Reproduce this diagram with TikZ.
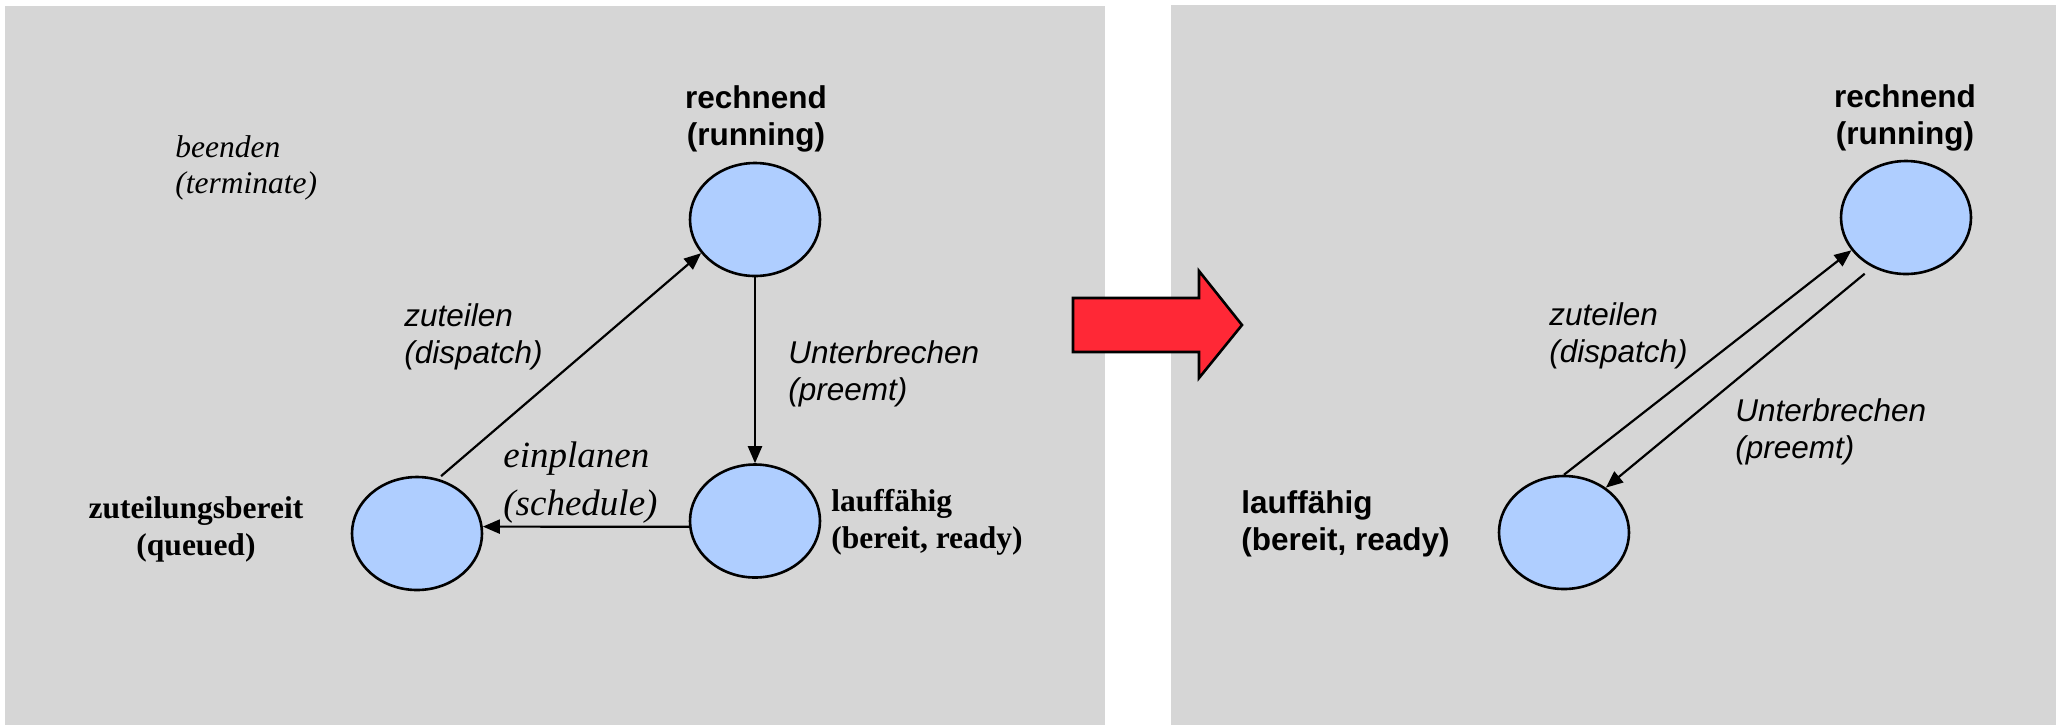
\documentclass[tikz,border=0pt]{standalone}
\usepackage{fontspec}
\setmainfont{Liberation Serif}
\setsansfont{Liberation Sans}
\usetikzlibrary{shapes.geometric}
\usetikzlibrary{arrows.meta}
\definecolor{panelgray}{RGB}{214,214,214}
\definecolor{stateblue}{RGB}{175,206,255}
\definecolor{bigred}{RGB}{255,40,54}
\tikzset{
>={Triangle[length=8.5pt,width=7pt]}, % filled triangle tips
my state/.style={draw,ellipse,fill=stateblue,line width=1.3pt,inner sep=0pt,
  minimum width=65pt,minimum height=56.5pt},
my edge/.style={line width=1.1pt},
my text/.style={inner sep=0pt,font=\fontsize{15.75}{18.5}\selectfont},
sans bold/.style={my text,font=\fontsize{15.75}{18.5}\selectfont\sffamily\bfseries},
sans it/.style={my text,font=\fontsize{15.75}{18.5}\selectfont\sffamily\itshape},
serif bold/.style={my text,font=\fontsize{15.75}{18.5}\selectfont\rmfamily\bfseries},
serif it/.style={my text,font=\fontsize{15.75}{18}\selectfont\rmfamily\itshape},
panel/.style={fill=panelgray,draw=none},
diagram/.style={x=0.5pt,y=-0.5pt}
}

\begin{document}
\begin{tikzpicture}[diagram]
\useasboundingbox (0,0) rectangle (2056,725);
\fill[panel] (5,6) rectangle (1105,725);
\fill[panel] (1171,5) rectangle (2056,725);

% left: three states
\node[my state] (rL) at (755,219.5) {};
\node[my state] (lL) at (755,521)   {};
\node[my state] (zb) at (417,533.5) {};

\path[->,my edge] (zb.69)  edge[shorten <=2pt] (rL.212)
                  (rL)     edge (lL)
                  (lL.185) edge (zb.6);

% labels (base = last line)
\node[sans bold,align=center,anchor=base]   at (756,145) {rechnend\\(running)};
\node[serif bold,align=center,anchor=base]  at (196,555) {zuteilungsbereit\\(queued)};
\node[serif bold,align=left,anchor=base west] at (831,548) {lauffähig\\(bereit, ready)};
\node[sans it,align=left,anchor=base west]  at (404,363) {zuteilen\\(dispatch)};
\node[sans it,align=left,anchor=base west]  at (788,400) {Unterbrechen\\(preemt)};
\node[serif it,align=left,anchor=base west,font=\fontsize{18.5}{24}\selectfont\rmfamily\itshape]
  at (503,515) {einplanen\\(schedule)};
\node[serif it,align=left,anchor=base west] at (175,193) {beenden\\(terminate)};

% big arrow between the panels
\draw[fill=bigred,line width=1.3pt] (1073,298) -- (1199,298) -- (1199,271) -- (1242,325)
  -- (1199,378) -- (1199,352) -- (1073,352) -- cycle;

% right: two states
\node[my state] (rR) at (1906,217.5) {};
\node[my state] (lR) at (1564,532.5) {};

\path[->,my edge] (lR.north) edge (rR.211)
                  (rR.236)   edge[shorten <=5pt] (lR.47);

\node[sans bold,align=center,anchor=base]    at (1905,144) {rechnend\\(running)};
\node[sans bold,align=left,anchor=base west] at (1241,550) {lauffähig\\(bereit, ready)};
\node[sans it,align=left,anchor=base west]   at (1549,362) {zuteilen\\(dispatch)};
\node[sans it,align=left,anchor=base west]   at (1735,458) {Unterbrechen\\(preemt)};
\end{tikzpicture}
\end{document}
